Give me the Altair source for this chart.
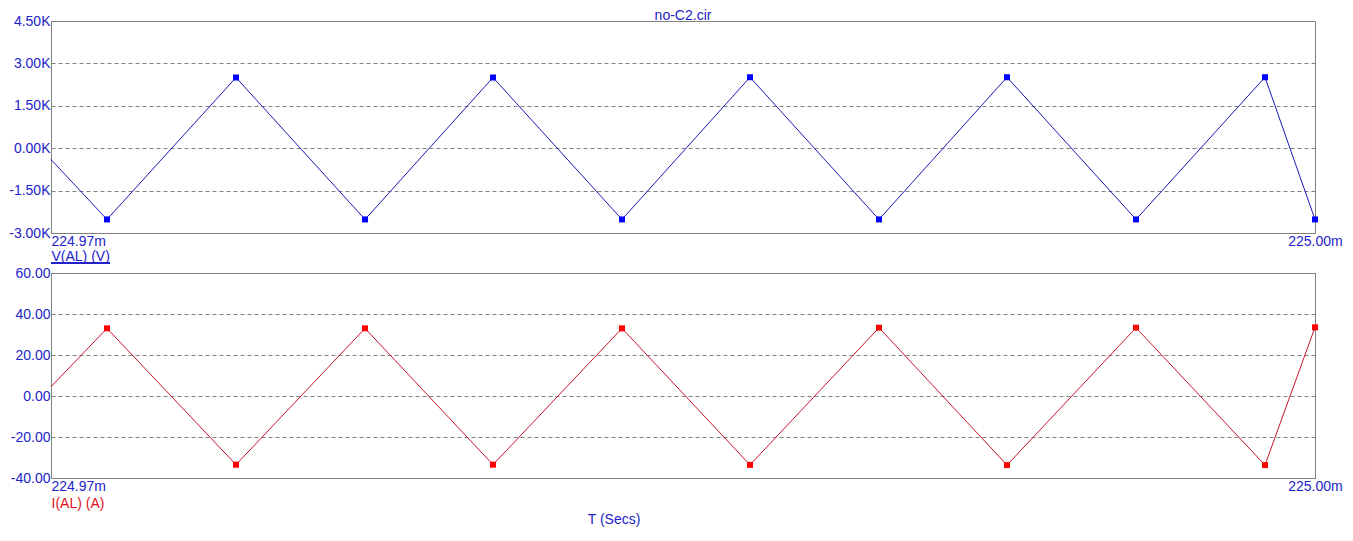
import altair as alt
import pandas as pd

# time in ms
t_ms = [224.97000, 224.971329, 224.974391, 224.977453, 224.980491, 224.983552,
        224.986590, 224.989652, 224.992690, 224.995752, 224.998813, 225.00000]
v_al = [-400, -2520, 2500, -2520, 2500, -2520, 2510, -2520, 2510, -2520, 2510, -2520]
i_al = [4.5, 33.0, -33.5, 33.0, -33.5, 33.0, -33.6, 33.3, -33.7, 33.3, -33.7, 33.5]

v_ticks = [-3000, -1500, 0, 1500, 3000, 4500]
i_ticks = [-40, -20, 0, 20, 40, 60]
t_ticks = [224.97, 225.00]

title_text = "no-C2.cir"
v_label = "V(AL) (V)"
i_label = "I(AL) (A)"
t_label = "T (Secs)"

FONT = "Liberation Sans"
TXT = "#2323c8"
GRID = "#808080"

df = pd.DataFrame({"t": t_ms, "v": v_al, "i": i_al})

W = 1264
H1 = 212
H2 = 205


def xaxis(title, color, tpad):
    return alt.Axis(
        values=t_ticks,
        labelExpr="format(datum.value, '.2f') + 'm'",
        grid=False, ticks=False, domain=False,
        labelAlign={"condition": {"test": "datum.value < 224.98", "value": "left"}, "value": "center"},
        labelFlush=False,
        labelBaseline="top",
        labelPadding=1,
        labelColor=TXT, labelFont=FONT, labelFontSize=14,
        title=title, titleAnchor="start", titleAlign="left",
        titleColor=color, titleFont=FONT, titleFontSize=14, titleFontWeight="normal",
        titlePadding=tpad,
    )


def yaxis(vals, expr):
    return alt.Axis(
        values=vals, labelExpr=expr,
        grid=True, gridDash=[4, 3], gridColor=GRID, gridWidth=1,
        ticks=False, domain=False,
        labelColor=TXT, labelFont=FONT, labelFontSize=14, labelPadding=1,
        title=None, minExtent=40, maxExtent=48,
    )


xscale = alt.Scale(domain=[224.97, 225.00], nice=False, zero=False)

base = alt.Chart(df)

v_expr = "(datum.value < 0 ? '-' : '') + format(abs(datum.value) / 1000, '.2f') + 'K'"
i_expr = "(datum.value < 0 ? '-' : '') + format(abs(datum.value), '.2f')"

top_line = base.mark_line(color="#1a1ab4", strokeWidth=1).encode(
    x=alt.X("t:Q", scale=xscale, axis=xaxis(v_label, TXT, 1)),
    y=alt.Y("v:Q", scale=alt.Scale(domain=[-3000, 4500], nice=False, zero=False),
            axis=yaxis(v_ticks, v_expr)),
)
top_pts = base.transform_filter("datum.t > 224.9701").mark_square(
    color="#0000ff", size=36, opacity=1).encode(x="t:Q", y="v:Q")
underline = base.mark_rule(color=TXT, strokeWidth=1).encode(
    x=alt.value(0), x2=alt.value(59), y=alt.value(H1 + 30))
title_mark = alt.Chart(pd.DataFrame({"s": [title_text]})).mark_text(
    font=FONT, fontSize=14, color=TXT, align="center", baseline="middle").encode(
    text="s:N", x=alt.value(W / 2), y=alt.value(-5))

top = alt.layer(top_line, top_pts, underline, title_mark).properties(width=W, height=H1)

bot_line = base.mark_line(color="#c81428", strokeWidth=1).encode(
    x=alt.X("t:Q", scale=xscale, axis=xaxis(i_label, "#e01020", 3)),
    y=alt.Y("i:Q", scale=alt.Scale(domain=[-40, 60], nice=False, zero=False),
            axis=yaxis(i_ticks, i_expr)),
)
bot_pts = base.transform_filter("datum.t > 224.9701").mark_square(
    color="#ff0000", size=36, opacity=1).encode(x="t:Q", y="i:Q")
t_mark = alt.Chart(pd.DataFrame({"s": [t_label]})).mark_text(
    font=FONT, fontSize=14, color=TXT, align="center", baseline="middle").encode(
    text="s:N", x=alt.value(563), y=alt.value(H2 + 42))

bottom = alt.layer(bot_line, bot_pts, t_mark).properties(width=W, height=H2)

chart = alt.vconcat(top, bottom, spacing=1).properties(
    padding={"left": 0, "top": 0, "right": 0, "bottom": 0},
    background="white",
).configure_view(stroke=GRID, strokeWidth=1).configure_axis(labelOverlap=False)

chart.save("out.html", embed_options={"renderer": "svg", "actions": False})
